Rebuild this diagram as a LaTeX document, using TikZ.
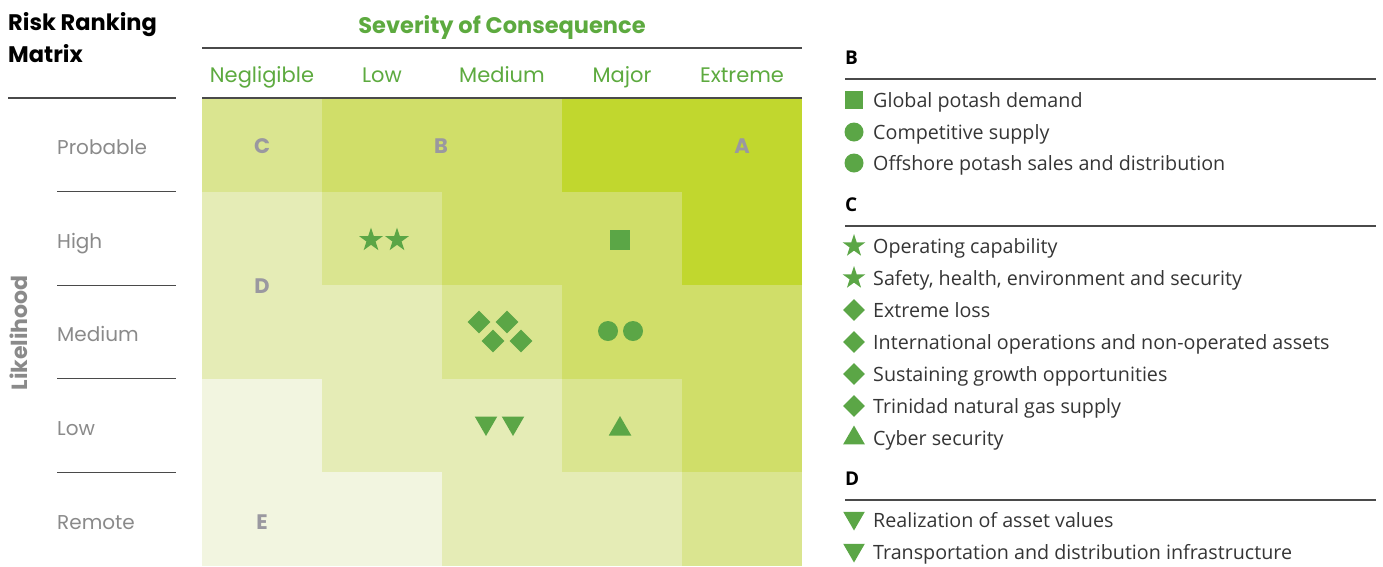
\documentclass[tikz,border=0pt]{standalone}
\usepackage{fontspec}
\setmainfont{Poppins}
\newfontfamily\legendfont{Open Sans}
\usetikzlibrary{shapes.geometric}
\definecolor{riskA}{HTML}{C1D72E}
\definecolor{riskB}{HTML}{D0DE69}
\definecolor{riskC}{HTML}{DAE590}
\definecolor{riskD}{HTML}{E5ECB6}
\definecolor{riskE}{HTML}{F2F5E0}
\definecolor{symgreen}{HTML}{5BA646}
\definecolor{headgreen}{HTML}{5DAA3F}
\definecolor{labelgray}{HTML}{8A8A8A}
\definecolor{lettergray}{HTML}{9A98A0}
\definecolor{rulegray}{HTML}{4A4A4A}
\definecolor{legtext}{HTML}{353535}
\tikzset{
  rulestyle/.style={draw=rulegray, line width=1.3pt},
  colhead/.style={text=headgreen, font=\fontsize{21}{25}\selectfont, anchor=base, inner sep=0pt},
  rowhead/.style={text=labelgray, font=\fontsize{20}{24}\selectfont, anchor=base west, inner sep=0pt},
  zone/.style={text=lettergray, font=\bfseries\fontsize{21}{24}\selectfont, inner sep=0pt},
  legtitle/.style={font=\legendfont\bfseries\fontsize{19}{22}\selectfont, anchor=base west, inner sep=0pt},
  legitem/.style={text=legtext, font=\legendfont\fontsize{19.7}{23}\selectfont, anchor=base west, inner sep=0pt},
  symstar/.style={star, star points=5, star point ratio=2.6, minimum size=25pt, inner sep=0pt, fill=symgreen},
  symdiamond/.style={diamond, minimum width=23pt, minimum height=23pt, inner sep=0pt, fill=symgreen},
  symsquare/.style={rectangle, minimum size=20pt, inner sep=0pt, fill=symgreen},
  symdot/.style={circle, minimum size=20pt, inner sep=0pt, fill=symgreen},
  symup/.style={regular polygon, regular polygon sides=3, minimum size=26pt, inner sep=0pt, fill=symgreen},
  symdown/.style={symup, shape border rotate=180},
}
% one cell of the matrix: column, row, colour
\newcommand\mcell[3]{\fill[#3] ({202+120*(#1-1)},{98+93.6*(#2-1)}) rectangle ++(120,93.6);}
\begin{document}
\begin{tikzpicture}[x=1pt,y=-1pt]
\useasboundingbox (0,0) rectangle (1383,566);

% matrix cells
\mcell{1}{1}{riskC}\mcell{2}{1}{riskB}\mcell{3}{1}{riskB}\mcell{4}{1}{riskA}\mcell{5}{1}{riskA}
\mcell{1}{2}{riskD}\mcell{2}{2}{riskC}\mcell{3}{2}{riskB}\mcell{4}{2}{riskB}\mcell{5}{2}{riskA}
\mcell{1}{3}{riskD}\mcell{2}{3}{riskD}\mcell{3}{3}{riskC}\mcell{4}{3}{riskB}\mcell{5}{3}{riskB}
\mcell{1}{4}{riskE}\mcell{2}{4}{riskD}\mcell{3}{4}{riskD}\mcell{4}{4}{riskC}\mcell{5}{4}{riskB}
\mcell{1}{5}{riskE}\mcell{2}{5}{riskE}\mcell{3}{5}{riskD}\mcell{4}{5}{riskD}\mcell{5}{5}{riskC}

% title
\node[anchor=base west, font=\bfseries\fontsize{22.5}{26}\selectfont, inner sep=0pt] (title) at (8,30) {Risk Ranking};
\node[anchor=base west, font=\bfseries\fontsize{22.5}{26}\selectfont, inner sep=0pt] (title2) at (8,62) {Matrix};

% severity header
\node[anchor=base, text=headgreen, font=\bfseries\fontsize{22.5}{26}\selectfont, inner sep=0pt] (sev) at (502,33) {Severity of Consequence};
\draw[rulestyle] (202,48) -- (802,48);
\node[colhead] (cneg) at (262,82) {Negligible};
\node[colhead] (clow) at (382,82) {Low};
\node[colhead] (cmed) at (502,82) {Medium};
\node[colhead] (cmaj) at (622,82) {Major};
\node[colhead] (cext) at (742,82) {Extreme};
\draw[rulestyle] (202,98) -- (802,98);

% likelihood axis
\node[rotate=90, text=labelgray, font=\bfseries\fontsize{22}{26}\selectfont] (lik) at (19,333) {Likelihood};
\draw[rulestyle] (8,98) -- (176,98);
\node[rowhead] (rprob) at (57,154) {Probable};
\draw[rulestyle] (57,191.6) -- (176,191.6);
\node[rowhead] (rhigh) at (57,248) {High};
\draw[rulestyle] (57,285.2) -- (176,285.2);
\node[rowhead] (rmed) at (57,341) {Medium};
\draw[rulestyle] (57,378.8) -- (176,378.8);
\node[rowhead] (rlow) at (57,435) {Low};
\draw[rulestyle] (57,472.4) -- (176,472.4);
\node[rowhead] (rrem) at (57,529) {Remote};

% zone letters
\node[zone] (zC) at (262,146) {C};
\node[zone] (zB) at (441,146) {B};
\node[zone] (zA) at (742,146) {A};
\node[zone] (zD) at (262,286) {D};
\node[zone] (zE) at (262,522) {E};

% risks placed in the matrix
\node[symstar] (m1) at (371,240) {};
\node[symstar] (m2) at (397,240) {};
\node[symsquare] (m3) at (620,240) {};
\node[symdiamond] (m4) at (479,322) {};
\node[symdiamond] (m5) at (507,322) {};
\node[symdiamond] (m6) at (493,341) {};
\node[symdiamond] (m7) at (521,341) {};
\node[symdot] (m8) at (608,331) {};
\node[symdot] (m9) at (633,331) {};
\node[symdown] (m10) at (486,423) {};
\node[symdown] (m11) at (513,423) {};
\node[symup] (m12) at (620,429) {};

% legend
\node[legtitle] (lB) at (845,64) {B};
\draw[rulestyle] (845,79) -- (1376,79);
\node[symsquare, minimum size=18pt] (sB1) at (854,100) {};
\node[legitem] (tB1) at (873,107) {Global potash demand};
\node[symdot, minimum size=19pt] (sB2) at (854,132) {};
\node[legitem] (tB2) at (873,139) {Competitive supply};
\node[symdot, minimum size=19pt] (sB3) at (854,163) {};
\node[legitem] (tB3) at (873,170) {Offshore potash sales and distribution};

\node[legtitle] (lC) at (845,211) {C};
\draw[rulestyle] (845,226) -- (1376,226);
\node[symstar, minimum size=24pt] (sC1) at (854,246) {};
\node[legitem] (tC1) at (873,253) {Operating capability};
\node[symstar, minimum size=24pt] (sC2) at (854,278) {};
\node[legitem] (tC2) at (873,285) {Safety, health, environment and security};
\node[symdiamond, minimum width=22pt, minimum height=22pt] (sC3) at (854,310) {};
\node[legitem] (tC3) at (873,317) {Extreme loss};
\node[symdiamond, minimum width=22pt, minimum height=22pt] (sC4) at (854,342) {};
\node[legitem] (tC4) at (873,349) {International operations and non-operated assets};
\node[symdiamond, minimum width=22pt, minimum height=22pt] (sC5) at (854,374) {};
\node[legitem] (tC5) at (873,381) {Sustaining growth opportunities};
\node[symdiamond, minimum width=22pt, minimum height=22pt] (sC6) at (854,406) {};
\node[legitem] (tC6) at (873,413) {Trinidad natural gas supply};
\node[symup, minimum size=25pt] (sC7) at (854,438) {};
\node[legitem] (tC7) at (873,445) {Cyber security};

\node[legtitle] (lD) at (845,485) {D};
\draw[rulestyle] (845,500) -- (1376,500);
\node[symdown, minimum size=25pt] (sD1) at (854,518) {};
\node[legitem] (tD1) at (873,527) {Realization of asset values};
\node[symdown, minimum size=25pt] (sD2) at (854,550) {};
\node[legitem] (tD2) at (873,559) {Transportation and distribution infrastructure};
\end{tikzpicture}
\end{document}
